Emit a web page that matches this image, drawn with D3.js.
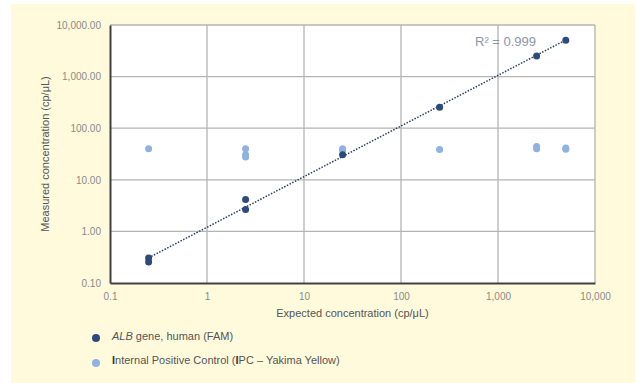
<!DOCTYPE html>
<html>
<head>
<meta charset="utf-8">
<script src="https://cdn.jsdelivr.net/npm/d3@7"></script>
<style>
  html, body { margin: 0; padding: 0; background: #ffffff; }
  svg { display: block; font-family: "Liberation Sans", Arial, sans-serif; }
</style>
</head>
<body>
<svg id="chart" width="637" height="383"></svg>
<script>
// Expected vs measured concentration (cp/µL), log-log
const albExpected = [0.25, 0.25, 2.5, 2.5, 25, 250, 2500, 5000];
const albMeasured = [0.305, 0.255, 4.15, 2.65, 30.5, 255, 2520, 5050];

const ipcExpected = [0.25, 2.5, 2.5, 2.5, 25, 25, 250, 2500, 2500, 5000, 5000];
const ipcMeasured = [40, 40, 30.5, 27.8, 40, 37.5, 38.5, 44, 40, 41.5, 39];

const xTicks = [0.1, 1, 10, 100, 1000, 10000];
const yTicks = [0.1, 1, 10, 100, 1000, 10000];

const xTickLabels = ["0.1", "1", "10", "100", "1,000", "10,000"];
const yTickLabels = ["0.10", "1.00", "10.00", "100.00", "1,000.00", "10,000.00"];

const rSquaredLabel = "R² = 0.999";

const darkBlue = "#2c4a7c";
const lightBlue = "#8fb2e3";

const svg = d3.select("#chart");

// Cream background panel
svg.append("rect")
  .attr("x", 11).attr("y", 4)
  .attr("width", 624).attr("height", 379)
  .attr("fill", "#fffadc");

const plot = { left: 110, right: 595, top: 25, bottom: 283 };

const x = d3.scaleLog().domain([0.1, 10000]).range([plot.left, plot.right]);
const y = d3.scaleLog().domain([0.1, 10000]).range([plot.bottom, plot.top]);

svg.append("rect")
  .attr("x", plot.left).attr("y", plot.top)
  .attr("width", plot.right - plot.left).attr("height", plot.bottom - plot.top)
  .attr("fill", "#ffffff");

// Gridlines
const grid = svg.append("g").attr("stroke", "#b4b4b4").attr("stroke-width", 1.3);
grid.selectAll(".gx").data(xTicks.slice(1)).join("line")
  .attr("x1", d => x(d)).attr("x2", d => x(d))
  .attr("y1", plot.top).attr("y2", plot.bottom);
grid.selectAll(".gy").data(yTicks.slice(1)).join("line")
  .attr("x1", plot.left).attr("x2", plot.right)
  .attr("y1", d => y(d)).attr("y2", d => y(d));

// Axes
const xAxis = d3.axisBottom(x).tickValues(xTicks)
  .tickFormat((d, i) => xTickLabels[i]).tickSize(0).tickPadding(10);
const yAxis = d3.axisLeft(y).tickValues(yTicks)
  .tickFormat((d, i) => yTickLabels[i]).tickSize(0).tickPadding(9);

const gx = svg.append("g").attr("transform", `translate(0,${plot.bottom})`).call(xAxis);
const gy = svg.append("g").attr("transform", `translate(${plot.left},0)`).call(yAxis);
[gx, gy].forEach(g => {
  g.select(".domain").attr("stroke", "#404040").attr("stroke-width", 2);
  g.selectAll("text").attr("fill", "#8a8a8a").attr("font-size", 10)
    .attr("font-family", "'Liberation Sans', Arial, sans-serif");
});

// Power trendline fitted in log space
const lx = albExpected.map(Math.log10), ly = albMeasured.map(Math.log10);
const mx = d3.mean(lx), my = d3.mean(ly);
const slope = d3.sum(lx, (v, i) => (v - mx) * (ly[i] - my)) / d3.sum(lx, v => (v - mx) ** 2);
const intercept = my - slope * mx;
const trendX = d3.extent(albExpected);
const trendPts = d3.range(0, 41).map(i => {
  const lv = Math.log10(trendX[0]) + (Math.log10(trendX[1]) - Math.log10(trendX[0])) * i / 40;
  return [10 ** lv, 10 ** (intercept + slope * lv)];
});
svg.append("path")
  .datum(trendPts)
  .attr("d", d3.line().x(d => x(d[0])).y(d => y(d[1])))
  .attr("fill", "none")
  .attr("stroke", "#2c3e66")
  .attr("stroke-width", 1.5)
  .attr("stroke-dasharray", "1.5,1.5");

// Points
svg.append("g").selectAll("circle")
  .data(ipcExpected.map((d, i) => [d, ipcMeasured[i]])).join("circle")
  .attr("cx", d => x(d[0])).attr("cy", d => y(d[1])).attr("r", 3.5)
  .attr("fill", lightBlue);
svg.append("g").selectAll("circle")
  .data(albExpected.map((d, i) => [d, albMeasured[i]])).join("circle")
  .attr("cx", d => x(d[0])).attr("cy", d => y(d[1])).attr("r", 3.5)
  .attr("fill", darkBlue);

// R² annotation
svg.append("text")
  .attr("x", 475).attr("y", 46)
  .attr("fill", "#8e95a8").attr("font-size", 13)
  .text(rSquaredLabel);

// Axis titles
svg.append("text")
  .attr("x", (plot.left + plot.right) / 2).attr("y", 317)
  .attr("text-anchor", "middle").attr("fill", "#555").attr("font-size", 11)
  .text("Expected concentration (cp/μL)");
svg.append("text")
  .attr("transform", `translate(49,${(plot.top + plot.bottom) / 2}) rotate(-90)`)
  .attr("text-anchor", "middle").attr("fill", "#555").attr("font-size", 11)
  .text("Measured concentration (cp/μL)");

// Legend
const legend = svg.append("g").attr("font-size", 11).attr("fill", "#555");
legend.append("circle").attr("cx", 96).attr("cy", 338).attr("r", 4).attr("fill", darkBlue);
const t1 = legend.append("text").attr("x", 112).attr("y", 340);
t1.append("tspan").attr("font-style", "italic").text("ALB");
t1.append("tspan").text(" gene, human (FAM)");

legend.append("circle").attr("cx", 96).attr("cy", 363).attr("r", 4).attr("fill", lightBlue);
const t2 = legend.append("text").attr("x", 112).attr("y", 364);
t2.append("tspan").attr("font-weight", "bold").attr("fill", "#333").text("I");
t2.append("tspan").text("nternal Positive Control (");
t2.append("tspan").attr("font-weight", "bold").attr("fill", "#333").text("I");
t2.append("tspan").text("PC – Yakima Yellow)");
</script>
</body>
</html>
